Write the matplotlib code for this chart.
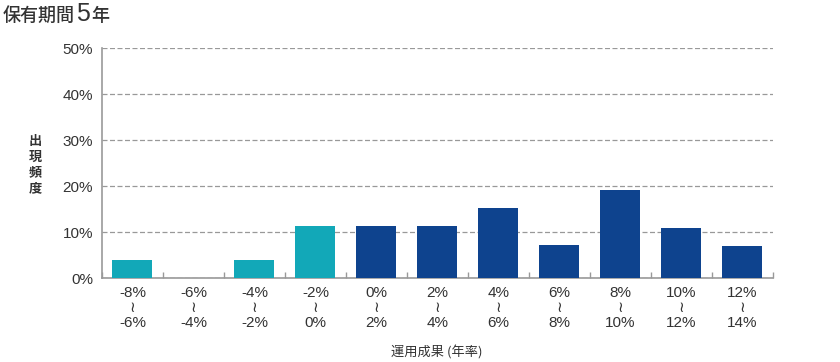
import matplotlib.pyplot as plt
import numpy as np

plt.rcParams['font.family'] = ['Noto Sans CJK JP', 'DejaVu Sans']

# 運用成果の区間
lower = ['-8%', '-6%', '-4%', '-2%', '0%', '2%', '4%', '6%', '8%', '10%', '12%']
upper = ['-6%', '-4%', '-2%', '0%', '2%', '4%', '6%', '8%', '10%', '12%', '14%']
# 出現頻度 (%)
freq = [3.9, 0.0, 3.9, 11.3, 11.3, 11.3, 15.2, 7.2, 19.1, 10.9, 7.0]

teal = '#12a8b8'
navy = '#0e438e'
colors = [teal if i < 4 else navy for i in range(len(freq))]
numfont = ['Liberation Sans', 'DejaVu Sans']

fig = plt.figure(figsize=(8.4, 3.62), dpi=100)
ax = fig.add_axes([0.1214, 0.232, 0.7988, 0.635])

x = np.arange(len(freq))
ax.bar(x, freq, width=0.655, color=colors, zorder=3)

ax.set_xlim(-0.5, len(freq) - 0.5)
ax.set_ylim(0, 50)
ax.set_yticks(np.arange(0, 51, 10))
ax.set_yticklabels([f'{v}%' for v in range(0, 51, 10)], fontsize=11, color='#333333', family=numfont)
ax.yaxis.grid(True, linestyle=(0, (4, 2)), color='#999999', linewidth=0.9, zorder=0)
ax.tick_params(axis='y', length=0, pad=6.5)

# カテゴリ境界の目盛
ax.set_xticks(np.arange(-0.5, len(freq) - 0.4, 1), minor=True)
ax.set_xticks(x)
ax.set_xticklabels([f'{a}\n≀\n{b}' for a, b in zip(lower, upper)],
                   fontsize=11, color='#333333', linespacing=1.08, family=numfont)
ax.tick_params(axis='x', which='major', length=0, pad=6)
ax.tick_params(axis='x', which='minor', length=4, color='#999999', width=1, direction='in')

for s in ['top', 'right']:
    ax.spines[s].set_visible(False)
for s in ['left', 'bottom']:
    ax.spines[s].set_color('#999999')
    ax.spines[s].set_linewidth(1.2)

fig.text(0.042, 0.545, '出\n現\n頻\n度', fontsize=9.5, fontweight='bold', color='#333333',
         ha='center', va='center', linespacing=1.15)
fig.text(0.52, 0.025, '運用成果 (年率)', fontsize=9.5, color='#333333', ha='center', va='center')

# タイトル（「5」だけ大きく）
fig.canvas.draw()
r = fig.canvas.get_renderer()
t1 = fig.text(0.003, 0.955, '保有期間', fontsize=13, fontweight='medium', color='#333333',
              ha='left', va='center')
x1 = t1.get_window_extent(r).x1 / fig.bbox.width
t2 = fig.text(x1 + 0.002, 0.96, '5', fontsize=18, color='#333333', ha='left', va='center', family=numfont)
x2 = t2.get_window_extent(r).x1 / fig.bbox.width
fig.text(x2 + 0.001, 0.955, '年', fontsize=13, fontweight='medium', color='#333333', ha='left', va='center')

fig.savefig('out.png', dpi=100)
